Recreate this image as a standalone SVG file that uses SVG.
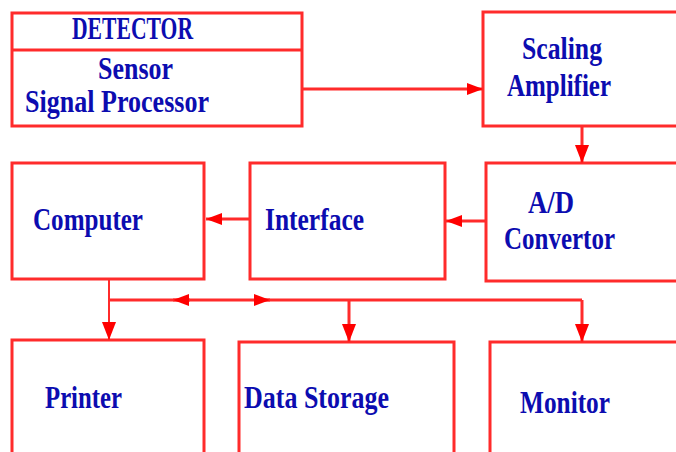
<svg xmlns="http://www.w3.org/2000/svg" width="676" height="452" viewBox="0 0 676 452">
  <style>
    .box { fill: #ffffff; stroke: #ff2b2b; stroke-width: 3; }
    .wire { fill: none; stroke: #ff2b2b; stroke-width: 3; }
    .thin { stroke-width: 2; }
    .lbl { font-family: "Liberation Serif", "Times New Roman", serif; font-weight: bold; font-size: 31px; fill: #0c0cb0; }
  </style>
  <defs>
    <marker id="arrow" viewBox="0 0 18 14" refX="18" refY="7" markerWidth="18" markerHeight="14" markerUnits="userSpaceOnUse" orient="auto">
      <path d="M0,0 L18,7 L0,14 Z" fill="#ff0000"/>
    </marker>
    <marker id="arrow-sm" viewBox="0 0 16 12" refX="16" refY="6" markerWidth="16" markerHeight="12" markerUnits="userSpaceOnUse" orient="auto">
      <path d="M0,0 L16,6 L0,12 Z" fill="#ff0000"/>
    </marker>
  </defs>

  <rect width="676" height="452" fill="#ffffff"/>

  <!-- blocks -->
  <g id="detector">
    <rect class="box" x="12" y="13" width="290" height="113"/>
    <line class="wire" x1="12" y1="50" x2="302" y2="50"/>
    <text class="lbl" x="72" y="39" textLength="121" lengthAdjust="spacingAndGlyphs">DETECTOR</text>
    <text class="lbl" x="98" y="79" textLength="75" lengthAdjust="spacingAndGlyphs">Sensor</text>
    <text class="lbl" x="25" y="112" textLength="184" lengthAdjust="spacingAndGlyphs">Signal Processor</text>
  </g>

  <g id="scaling-amplifier">
    <rect class="box" x="483" y="12" width="210" height="114"/>
    <text class="lbl" x="522" y="59" textLength="80" lengthAdjust="spacingAndGlyphs">Scaling</text>
    <text class="lbl" x="507" y="96" textLength="104" lengthAdjust="spacingAndGlyphs">Amplifier</text>
  </g>

  <g id="computer">
    <rect class="box" x="12" y="163" width="192" height="116"/>
    <text class="lbl" x="33" y="230" textLength="110" lengthAdjust="spacingAndGlyphs">Computer</text>
  </g>

  <g id="interface">
    <rect class="box" x="250" y="163" width="195" height="116"/>
    <text class="lbl" x="265" y="230" textLength="99" lengthAdjust="spacingAndGlyphs">Interface</text>
  </g>

  <g id="ad-convertor">
    <rect class="box" x="486" y="163" width="210" height="118"/>
    <text class="lbl" x="528" y="213" textLength="46" lengthAdjust="spacingAndGlyphs">A/D</text>
    <text class="lbl" x="504" y="249" textLength="111" lengthAdjust="spacingAndGlyphs">Convertor</text>
  </g>

  <g id="printer">
    <rect class="box" x="12" y="340" width="192" height="130"/>
    <text class="lbl" x="45" y="408" textLength="77" lengthAdjust="spacingAndGlyphs">Printer</text>
  </g>

  <g id="data-storage">
    <rect class="box" x="239" y="342" width="215" height="130"/>
    <text class="lbl" x="244" y="408" textLength="145" lengthAdjust="spacingAndGlyphs">Data Storage</text>
  </g>

  <g id="monitor">
    <rect class="box" x="490" y="342" width="210" height="130"/>
    <text class="lbl" x="520" y="413" textLength="90" lengthAdjust="spacingAndGlyphs">Monitor</text>
  </g>

  <!-- signal flow -->
  <g id="connectors">
    <path class="wire" d="M302,89 H483" marker-end="url(#arrow-sm)"/>
    <path class="wire" d="M582,126 V163" marker-end="url(#arrow)"/>
    <path class="wire" d="M486,221 H446" marker-end="url(#arrow-sm)"/>
    <path class="wire" d="M250,219 H206" marker-end="url(#arrow-sm)"/>

    <!-- output bus from the computer -->
    <path class="wire thin" d="M109,280 V340" marker-end="url(#arrow)"/>
    <path class="wire" d="M109,300 H582"/>
    <path class="wire" d="M190,300 H173" marker-end="url(#arrow-sm)"/>
    <path class="wire" d="M254,300 H270" marker-end="url(#arrow-sm)"/>
    <path class="wire" d="M349,300 V342" marker-end="url(#arrow)"/>
    <path class="wire" d="M582,300 V342" marker-end="url(#arrow)"/>
  </g>
</svg>
